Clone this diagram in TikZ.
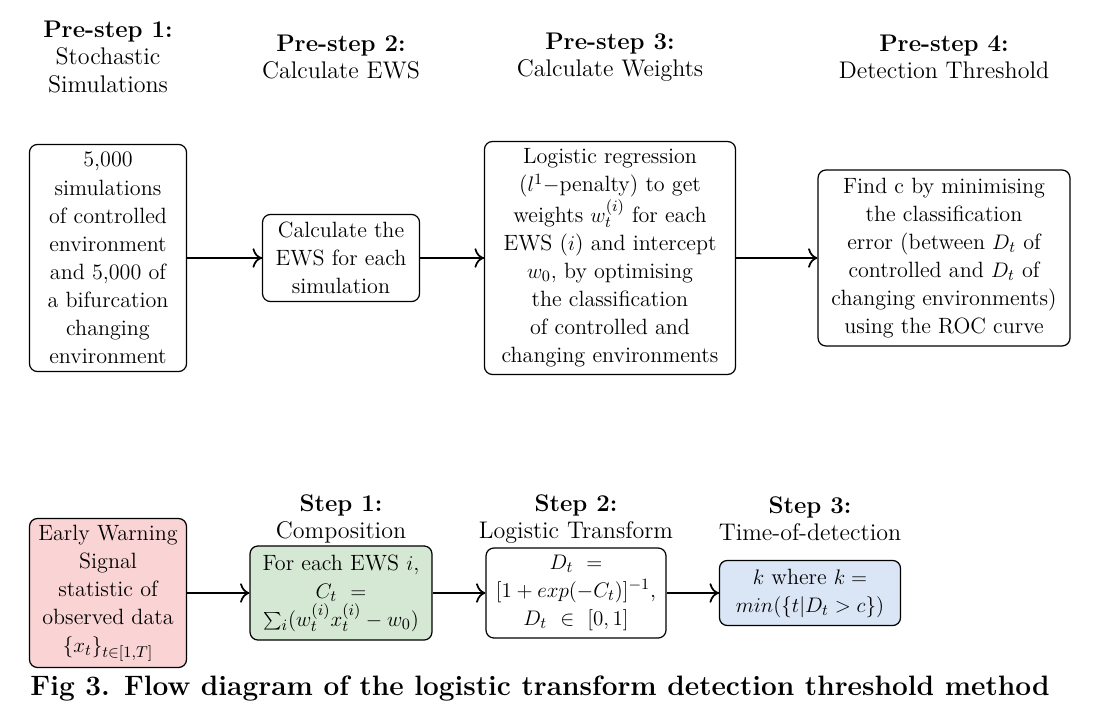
\documentclass[tikz,border=0pt]{standalone}
\usepackage{fontspec}
\usepackage{xcolor}
\definecolor{lred}{RGB}{250,212,212}
\definecolor{lgreen}{RGB}{213,232,212}
\definecolor{lblue}{RGB}{218,230,245}
\usetikzlibrary{positioning, calc, shapes, arrows.meta, decorations.markings}
\tikzstyle{Arrow} = [
line width=1pt,
decoration={
markings,
mark=at position 0.9999 with {
\arrow[line width=1pt]{To[scale=1.4]}}},
preaction = {decorate}]
\tikzstyle{Box} = [
draw,
line width=0.7pt,
rounded corners=4.5pt,
align=center,
inner sep=0pt,
font=\fontsize{12.6}{16}\selectfont]
\tikzstyle{Head} = [
align=center,
font=\fontsize{13.7}{15.6}\selectfont]

\begin{document}
\begin{tikzpicture}[x=0.57pt, y=0.57pt]
    \useasboundingbox (0,0) rectangle (1116,-720);

    % pre-steps
    \node [Head] (h1) at (108,-57) {\textbf{Pre-step 1:}\\Stochastic\\Simulations};
    \node [Head] (h2) at (341,-57) {\textbf{Pre-step 2:}\\Calculate EWS};
    \node [Head] (h3) at (610,-57) {\textbf{Pre-step 3:}\\Calculate Weights};
    \node [Head] (h4) at (944,-57) {\textbf{Pre-step 4:}\\Detection Threshold};

    \node [Box, minimum width=89.5pt, minimum height=129.4pt] (sim) at (108,-258)
        {5,000\\simulations\\of controlled\\environment\\and 5,000 of\\a bifurcation\\changing\\environment};
    \node [Box, minimum width=89.5pt, minimum height=49.6pt] (ews) at (341,-258)
        {Calculate the\\EWS for each\\simulation};
    \node [Box, minimum width=143.1pt, minimum height=132.8pt] (weights) at (610,-258)
        {Logistic regression\\($l^1-$penalty) to get\\weights $w_t^{(i)}$ for each\\EWS ($i$) and intercept\\$w_0$, by optimising\\the classification\\of controlled and\\changing environments};
    \node [Box, minimum width=143.6pt, minimum height=100.3pt] (thresh) at (944,-258)
        {Find c by minimising\\the classification\\error (between $D_t$ of\\controlled and $D_t$ of\\changing environments)\\using the ROC curve};

    \draw[Arrow] (sim.east)--(ews.west);
    \draw[Arrow] (ews.east)--(weights.west);
    \draw[Arrow] (weights.east)--(thresh.west);

    % steps
    \node [Head] (s1) at (341,-519) {\textbf{Step 1:}\\Composition};
    \node [Head] (s2) at (576,-519) {\textbf{Step 2:}\\Logistic Transform};
    \node [Head] (s3) at (810,-519) {\textbf{Step 3:}\\Time-of-detection};

    \node [Box, fill=lred, minimum width=89.5pt, minimum height=84.9pt] (data) at (108,-593)
        {Early Warning\\Signal\\statistic of\\observed data\\$\{x_t\}_{t\in[1,T]}$};
    \node [Box, fill=lgreen, minimum width=103.7pt, minimum height=53.6pt] (comp) at (341,-593)
        {For each EWS $i$,\\$C_t\ =$\\$\sum_i(w_t^{(i)}x_t^{(i)}-w_0)$};
    \node [Box, minimum width=102.6pt, minimum height=51.3pt] (logit) at (576,-593)
        {$D_t\ =$\\$[1+exp(-C_t)]^{-1}$,\\$D_t\ \in\ [0,1]$};
    \node [Box, fill=lblue, minimum width=103.2pt, minimum height=37.1pt] (detect) at (810,-593)
        {$k$ where $k=$\\$min(\{t|D_t>c\})$};

    \draw[Arrow] (data.east)--(comp.west);
    \draw[Arrow] (comp.east)--(logit.west);
    \draw[Arrow] (logit.east)--(detect.west);

    \node [font=\fontsize{16}{18}\bfseries\selectfont] (caption) at (540,-688)
        {Fig 3. Flow diagram of the logistic transform detection threshold method};
\end{tikzpicture}
\end{document}
